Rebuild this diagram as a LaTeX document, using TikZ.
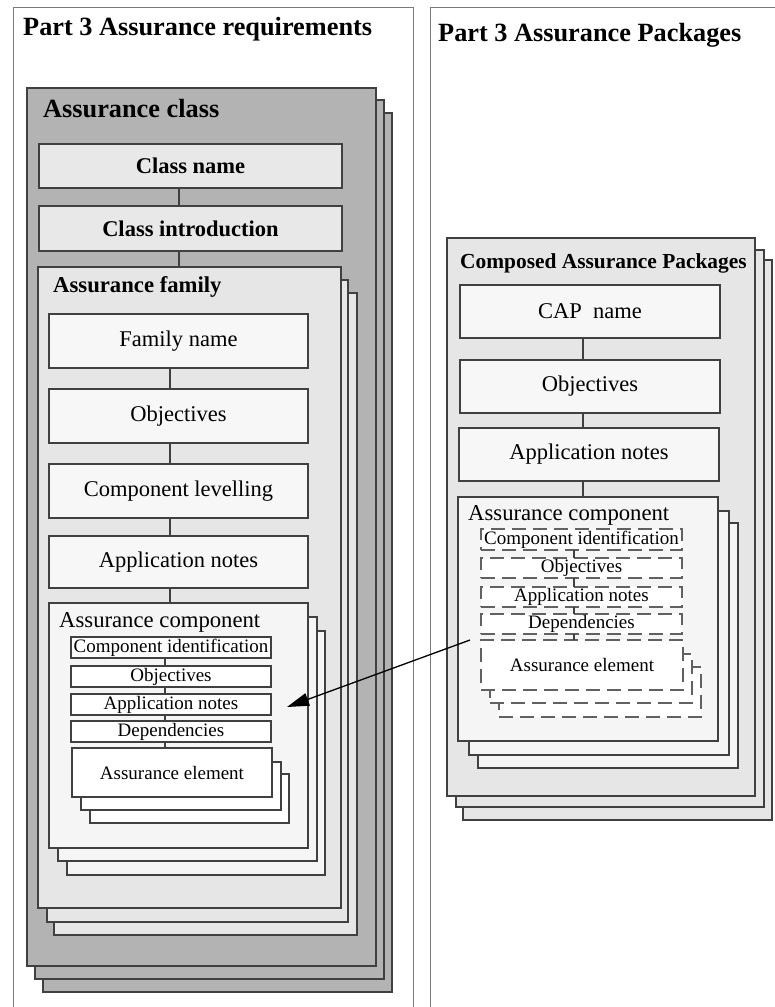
\documentclass[tikz,border=0pt]{standalone}
\usepackage{fontspec}
\setmainfont{Liberation Serif}
\usetikzlibrary{arrows.meta}
\definecolor{clsgray}{HTML}{B3B3B3}
\definecolor{famgray}{HTML}{E6E6E6}
\definecolor{hdrgray}{HTML}{E8E8E8}
\definecolor{lightbox}{HTML}{F7F7F7}
\definecolor{compbox}{HTML}{F5F5F5}
\definecolor{linegray}{HTML}{404040}
\definecolor{panelgray}{HTML}{7A7A7A}
\begin{document}
\begin{tikzpicture}[x=1pt,y=-1pt,
  ln/.style={draw=linegray, line width=1.3pt},
  bxs/.style={ln, anchor=north west, inner sep=0pt, outer sep=0pt},
  clsbox/.style={bxs, fill=clsgray},
  hdrbox/.style={bxs, fill=hdrgray, font=\bfseries\fontsize{22.5}{26}\selectfont},
  fambox/.style={bxs, fill=famgray},
  itembox/.style={bxs, fill=lightbox, font=\fontsize{22.5}{26}\selectfont},
  compbx/.style={bxs, fill=compbox},
  smallbox/.style={bxs, fill=white, font=\fontsize{19}{22}\selectfont},
  dashbox/.style={bxs, draw=black!62, fill=white, dash pattern=on 14pt off 7pt, font=\fontsize{19}{22}\selectfont},
  panel/.style={draw=panelgray, line width=1pt},
  ttl/.style={anchor=base west, inner sep=0pt, font=\bfseries\fontsize{26.3}{30}\selectfont},
  sttl/.style={anchor=base west, inner sep=0pt, font=\bfseries\fontsize{22.7}{26}\selectfont},
  rttl/.style={anchor=base west, inner sep=0pt, font=\fontsize{22.7}{26}\selectfont},
  conn/.style={draw=linegray, line width=1.3pt},
  arr/.style={draw=black, line width=1.3pt, -{Triangle[length=22pt,width=13pt]}}
]
\useasboundingbox (0,0) rectangle (775,1007);
\fill[white] (0,0) rectangle (775,1007);

% panels
\draw[panel] (13,1007) -- (13,7) -- (413,7) -- (413,1007);
\draw[panel] (430,1007) -- (430,7) -- (775,7);
\node[ttl] (t1) at (23,35) {Part 3 Assurance requirements};
\node[ttl] (t2) at (438,41) {Part 3 Assurance Packages};

% ---------------- Assurance class ----------------
\node[clsbox, minimum width=349, minimum height=879] (cls3) at (43,113) {};
\node[clsbox, minimum width=349, minimum height=879] (cls2) at (35,100) {};
\node[clsbox, minimum width=349, minimum height=878] (cls) at (27,88) {};
\node[sttl, font=\bfseries\fontsize{26.3}{30}\selectfont] (clst) at (43,117) {Assurance class};

\coordinate (spA) at (179,0);
\node[hdrbox, minimum width=303, minimum height=44] (cname) at (39,144) {Class name};
\node[hdrbox, minimum width=303, minimum height=45] (cintro) at (39,206) {Class introduction};

% ---------------- Assurance family ----------------
\node[fambox, minimum width=303, minimum height=642] (fam3) at (54,293) {};
\node[fambox, minimum width=301, minimum height=642] (fam2) at (47,280) {};
\node[fambox, minimum width=303, minimum height=641] (fam) at (38,267) {};
\node[sttl] (famt) at (53,292) {Assurance family};

\draw[conn] (cname.south -| spA) -- (cintro.north -| spA);
\draw[conn] (cintro.south -| spA) -- (fam.north -| spA);

\coordinate (spB) at (170,0);
\node[itembox, minimum width=259, minimum height=54] (fname) at (49,314) {Family name};
\node[itembox, minimum width=259, minimum height=54] (fobj) at (49,389) {Objectives};
\node[itembox, minimum width=259, minimum height=54] (flev) at (49,464) {Component levelling};
\node[itembox, minimum width=259, minimum height=52] (fapp) at (49,536) {Application notes};

% ---------------- Assurance component (left) ----------------
\node[compbx, minimum width=258, minimum height=244] (comp3) at (67,631) {};
\node[compbx, minimum width=259, minimum height=244] (comp2) at (58,617) {};
\node[compbx, minimum width=259, minimum height=245] (comp) at (49,603) {};
\node[rttl] (compt) at (59,627) {Assurance component};

\draw[conn] (fname.south -| spB) -- (fobj.north -| spB);
\draw[conn] (fobj.south -| spB) -- (flev.north -| spB);
\draw[conn] (flev.south -| spB) -- (fapp.north -| spB);
\draw[conn] (fapp.south -| spB) -- (comp.north -| spB);

\coordinate (spC) at (165,0);
\node[smallbox, minimum width=200, minimum height=21] (cid) at (71,637) {Component identification};
\node[smallbox, minimum width=200, minimum height=21] (cobj) at (71,666) {Objectives};
\node[smallbox, minimum width=200, minimum height=21] (capp) at (71,694) {Application notes};
\node[smallbox, minimum width=200, minimum height=21] (cdep) at (71,721) {Dependencies};
\node[smallbox, minimum width=199, minimum height=49] (el3) at (90,774) {};
\node[smallbox, minimum width=200, minimum height=48] (el2) at (81,762) {};
\node[smallbox, minimum width=200, minimum height=49] (el) at (72,748) {Assurance element};

\draw[conn] (cid.south -| spC) -- (cobj.north -| spC);
\draw[conn] (cobj.south -| spC) -- (capp.north -| spC);
\draw[conn] (capp.south -| spC) -- (cdep.north -| spC);
\draw[conn] (cdep.south -| spC) -- (el.north -| spC);

% ---------------- Composed Assurance Packages ----------------
\node[fambox, minimum width=309, minimum height=560] (cap3) at (463,260) {};
\node[fambox, minimum width=308, minimum height=557] (cap2) at (456,250) {};
\node[fambox, minimum width=308, minimum height=558] (cap) at (447,238) {};
\node[sttl, font=\bfseries\fontsize{21.4}{25}\selectfont] (capt) at (460,268) {Composed Assurance Packages};

\coordinate (spD) at (583,0);
\node[itembox, minimum width=260, minimum height=53] (pname) at (460,285) {CAP\ \ name};
\node[itembox, minimum width=260, minimum height=53] (pobj) at (460,360) {Objectives};
\node[itembox, minimum width=260, minimum height=53] (papp) at (459,428) {Application notes};

\node[compbx, minimum width=260, minimum height=245] (pcomp3) at (478,523) {};
\node[compbx, minimum width=260, minimum height=244] (pcomp2) at (469,511) {};
\node[compbx, minimum width=260, minimum height=244] (pcomp) at (458,497) {};
\node[rttl] (pcompt) at (468,520) {Assurance component};

\draw[conn] (pname.south -| spD) -- (pobj.north -| spD);
\draw[conn] (pobj.south -| spD) -- (papp.north -| spD);
\draw[conn] (papp.south -| spD) -- (pcomp.north -| spD);

\coordinate (spE) at (574,0);
\node[dashbox, minimum width=201, minimum height=21] (pid) at (481,529) {Component identification};
\node[dashbox, minimum width=201, minimum height=20] (pobjs) at (481,558) {Objectives};
\node[dashbox, minimum width=201, minimum height=20] (papps) at (481,587) {Application notes};
\node[dashbox, minimum width=201, minimum height=20] (pdep) at (481,614) {Dependencies};
\node[dashbox, minimum width=202, minimum height=50] (pel3) at (499,667) {};
\node[dashbox, minimum width=202, minimum height=49] (pel2) at (490,654) {};
\node[dashbox, minimum width=202, minimum height=50] (pel) at (481,640) {Assurance element};

\draw[conn] (pid.south -| spE) -- (pobjs.north -| spE);
\draw[conn] (pobjs.south -| spE) -- (papps.north -| spE);
\draw[conn] (papps.south -| spE) -- (pdep.north -| spE);
\draw[conn] (pdep.south -| spE) -- (pel.north -| spE);

% arrow
\coordinate (arrS) at (470,640);
\coordinate (arrT) at (287,707);
\draw[arr] (arrS) -- (arrT);
\end{tikzpicture}
\end{document}
